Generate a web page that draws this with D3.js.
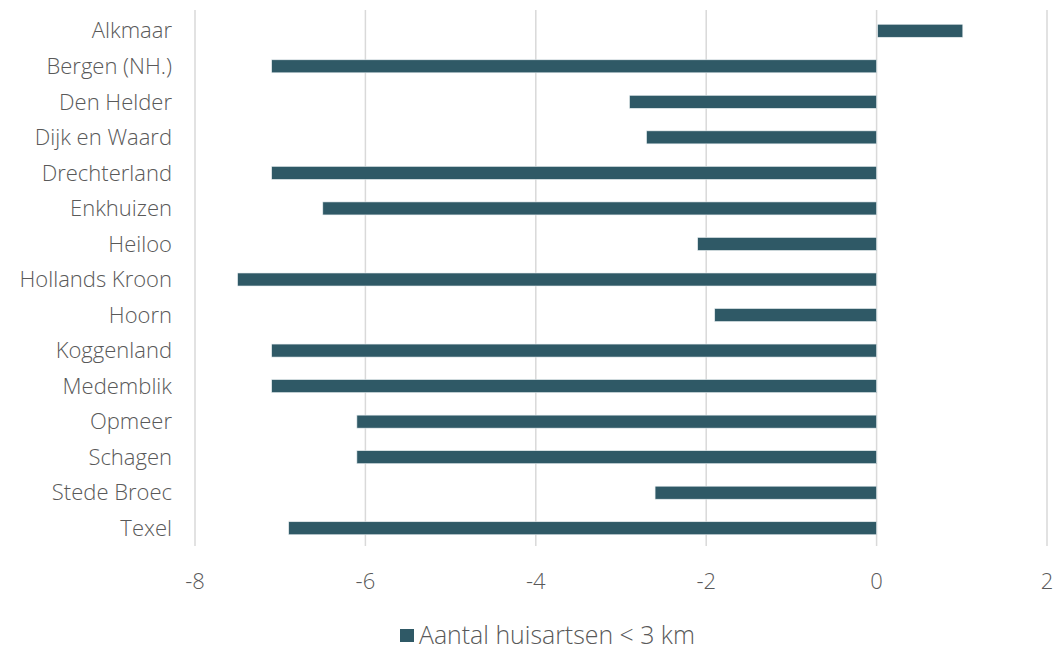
<!DOCTYPE html>
<html><head><meta charset="utf-8">
<script src="https://cdn.jsdelivr.net/npm/d3@7"></script>
<style>body{margin:0;background:#fff;} text{font-family:"Open Sans",sans-serif;font-weight:300;}</style>
</head><body>
<svg id="c" width="1056" height="647"></svg>
<script>
const categories = ["Alkmaar","Bergen (NH.)","Den Helder","Dijk en Waard","Drechterland","Enkhuizen","Heiloo","Hollands Kroon","Hoorn","Koggenland","Medemblik","Opmeer","Schagen","Stede Broec","Texel"];
const values = [1.0,-7.1,-2.9,-2.7,-7.1,-6.5,-2.1,-7.5,-1.9,-7.1,-7.1,-6.1,-6.1,-2.6,-6.9];
const xTicks = [-8,-6,-4,-2,0,2];
const seriesName = "Aantal huisartsen < 3 km";

const svg = d3.select("#c");
const x = d3.scaleLinear().domain([-8,2]).range([195,1047]);
const y = d3.scaleBand().domain(categories).range([13,546]).paddingInner(0.634).paddingOuter(0.317);
const color = "#2f5966", textCol = "#595959";

svg.append("g").selectAll("line").data(xTicks).join("line")
  .attr("x1",d=>x(d)).attr("x2",d=>x(d)).attr("y1",10).attr("y2",546)
  .attr("stroke","#d9d9d9").attr("stroke-width",1.5);

svg.append("g").selectAll("rect").data(values).join("rect")
  .attr("x",d=>Math.min(x(0),x(d))+ (d>0?1:0)).attr("width",d=>Math.abs(x(d)-x(0)))
  .attr("y",(d,i)=>y(categories[i])).attr("height",y.bandwidth())
  .attr("fill",color).attr("stroke","#e8eef0").attr("stroke-width",0.6);

svg.append("g").selectAll("text").data(categories).join("text")
  .attr("x",172).attr("y",d=>y(d)+y.bandwidth()/2).attr("dy","0.35em")
  .attr("text-anchor","end").attr("font-size",22).attr("fill",textCol).text(d=>d);

svg.append("g").selectAll("text").data(xTicks).join("text")
  .attr("x",d=>x(d)).attr("y",581).attr("dy","0.35em")
  .attr("text-anchor","middle").attr("font-size",22).attr("fill",textCol).text(d=>d);

const lg = svg.append("g");
lg.append("rect").attr("x",400).attr("y",629).attr("width",14).attr("height",13).attr("fill",color);
const lt = lg.append("text").attr("x",419).attr("y",643.5).attr("font-size",22).attr("fill",textCol).text(seriesName);
const w = lt.node().getComputedTextLength();
if (w > 0) lt.attr("font-size", Math.min(25, 22*276/w));
</script>
</body></html>
